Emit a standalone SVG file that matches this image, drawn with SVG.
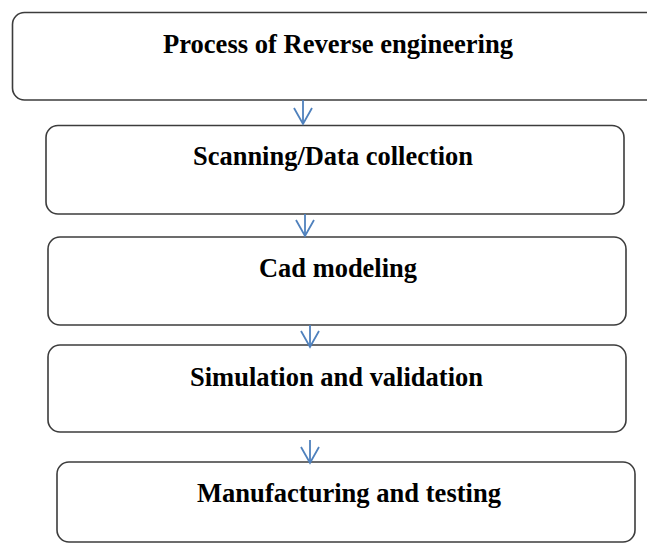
<svg xmlns="http://www.w3.org/2000/svg" width="647" height="544" viewBox="0 0 647 544">
<style>
.box{fill:#ffffff;stroke:#3c3c3c;stroke-width:1.6}
.lbl{font-family:"Liberation Serif","Times New Roman",serif;font-weight:bold;font-size:27px;fill:#000;text-anchor:middle}
.conn{stroke:#4f81bd;stroke-width:1.8;fill:none}
</style>
<defs>
<marker id="v" viewBox="0 0 20 20" refX="18" refY="10" markerWidth="20" markerHeight="20" markerUnits="userSpaceOnUse" orient="auto">
<path d="M2,1 L18,10 L2,19" fill="none" stroke="#4f81bd" stroke-width="1.8"/>
</marker>
</defs>
<rect width="647" height="544" fill="#ffffff"/>
<g id="n1"><rect class="box" x="12.5" y="12.5" width="660" height="87.5" rx="12"/><text class="lbl" x="338" y="53" textLength="350" lengthAdjust="spacingAndGlyphs">Process of Reverse engineering</text></g>
<g id="n2"><rect class="box" x="46" y="125.5" width="578" height="88.5" rx="12"/><text class="lbl" x="333" y="165" textLength="280" lengthAdjust="spacingAndGlyphs">Scanning/Data collection</text></g>
<g id="n3"><rect class="box" x="48" y="237" width="578" height="88" rx="12"/><text class="lbl" x="338" y="277" textLength="158" lengthAdjust="spacingAndGlyphs">Cad modeling</text></g>
<g id="n4"><rect class="box" x="48" y="345" width="578" height="87" rx="12"/><text class="lbl" x="336.5" y="386" textLength="293" lengthAdjust="spacingAndGlyphs">Simulation and validation</text></g>
<g id="n5"><rect class="box" x="57" y="462" width="578" height="80" rx="12"/><text class="lbl" x="349" y="502" textLength="304" lengthAdjust="spacingAndGlyphs">Manufacturing and testing</text></g>
<g id="connectors">
<line class="conn" x1="303" y1="100" x2="303" y2="124" marker-end="url(#v)"/>
<line class="conn" x1="305" y1="214" x2="305" y2="236" marker-end="url(#v)"/>
<line class="conn" x1="310" y1="325" x2="310" y2="347" marker-end="url(#v)"/>
<line class="conn" x1="310" y1="440" x2="310" y2="463" marker-end="url(#v)"/>
</g>
</svg>
